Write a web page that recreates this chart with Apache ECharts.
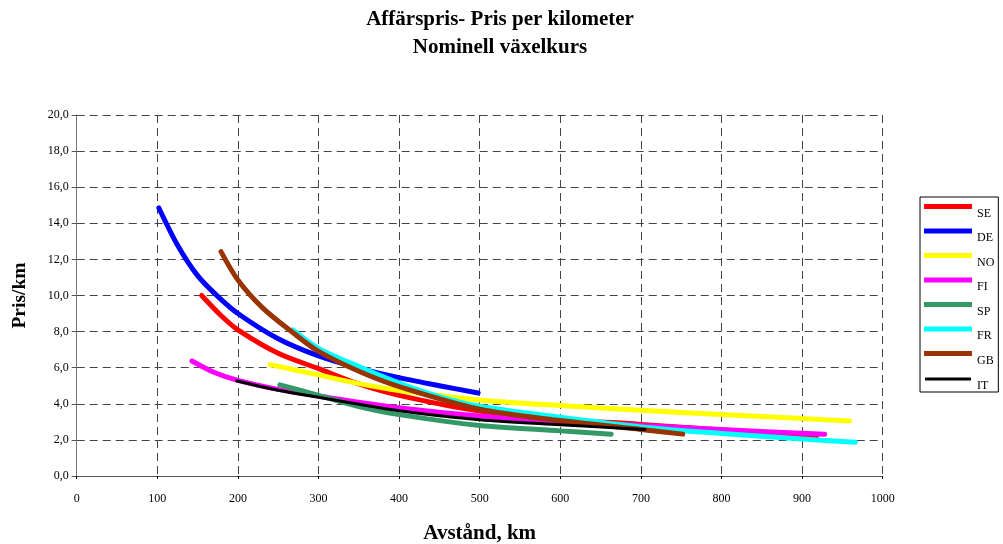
<!DOCTYPE html>
<html>
<head>
<meta charset="utf-8">
<script src="https://cdn.jsdelivr.net/npm/echarts@6/dist/echarts.min.js"></script>
<style>
  html, body { margin: 0; padding: 0; background: #fff; }
  #chart { width: 1003px; height: 544px; }
</style>
</head>
<body>
<div id="chart"></div>
<script>
// Pris per kilometer (y) mot avstånd i km (x), per land
const countries = ['SE', 'DE', 'NO', 'FI', 'SP', 'FR', 'GB', 'IT'];
const colors = ['#FF0000', '#0000FF', '#FFFF00', '#FF00FF', '#339966', '#00FFFF', '#993300', '#000000'];

const SE = [[155, 10.0], [180, 8.85], [200, 8.1], [250, 6.8], [300, 5.95], [350, 5.1], [400, 4.47], [500, 3.6], [600, 3.15], [700, 2.86], [800, 2.55], [918, 2.22]];
const DE = [[102, 14.85], [125, 12.8], [150, 11.1], [175, 9.95], [200, 9.0], [250, 7.6], [300, 6.65], [350, 5.98], [400, 5.45], [450, 5.0], [498, 4.6]];
const NO = [[240, 6.17], [300, 5.6], [350, 5.12], [400, 4.74], [500, 4.21], [600, 3.9], [700, 3.64], [800, 3.41], [900, 3.18], [959, 3.05]];
const FI = [[143, 6.37], [170, 5.75], [200, 5.3], [250, 4.8], [300, 4.43], [400, 3.78], [500, 3.32], [600, 3.02], [700, 2.8], [800, 2.57], [928, 2.31]];
const SP = [[252, 5.05], [300, 4.47], [350, 3.85], [400, 3.4], [500, 2.8], [600, 2.5], [663, 2.31]];
const FR = [[268, 8.1], [300, 7.07], [350, 6.06], [400, 5.15], [450, 4.4], [500, 3.86], [600, 3.25], [700, 2.72], [800, 2.36], [900, 2.05], [966, 1.87]];
const GB = [[179, 12.43], [200, 10.86], [231, 9.3], [268, 7.95], [300, 6.9], [350, 5.8], [400, 4.95], [500, 3.7], [600, 3.07], [700, 2.58], [752, 2.32]];
const IT = [[198.5, 5.26], [250, 4.75], [300, 4.36], [400, 3.62], [500, 3.12], [600, 2.84], [705, 2.57]];

const seriesData = [SE, DE, NO, FI, SP, FR, GB, IT];
const lineWidths = [5, 5, 5, 5, 5, 5, 5, 3];

const serif = '"Liberation Serif", "DejaVu Serif", serif';
const dashed = { color: '#444', type: [8, 5], width: 1 };

const chart = echarts.init(document.getElementById('chart'), null, { renderer: 'canvas' });

// legend entries: plain bars; the thinner IT bar is trimmed with a white border
const legendData = countries.map((name, i) => ({
  name,
  icon: 'rect',
  itemStyle: lineWidths[i] < 5
    ? { color: colors[i], borderColor: '#fff', borderWidth: 2 }
    : { color: colors[i], borderWidth: 0 }
}));

chart.setOption({
  animation: false,
  backgroundColor: '#fff',
  title: {
    text: 'Affärspris- Pris per kilometer\nNominell växelkurs',
    left: 495,
    top: 1,
    textAlign: 'center',
    textStyle: { fontFamily: serif, fontWeight: 'bold', fontSize: 21, lineHeight: 28, color: '#000' }
  },
  legend: {
    orient: 'vertical',
    left: 920,
    top: 197,
    padding: [7, 4, 0, 3],
    itemGap: 9,
    itemWidth: 48,
    itemHeight: 5,
    borderColor: '#000',
    borderWidth: 1,
    borderRadius: 0,
    data: legendData,
    formatter: '{n|{name}}',
    textStyle: {
      color: '#000',
      rich: { n: { fontFamily: serif, fontSize: 12, color: '#000', padding: [14, 0, 0, 0] } }
    }
  },
  grid: { left: 76.7, right: 120.3, top: 115, bottom: 68, outerBoundsMode: 'none' },
  xAxis: {
    type: 'value',
    min: 0, max: 1000, interval: 100,
    name: 'Avstånd, km',
    nameLocation: 'middle',
    nameGap: 47,
    nameTextStyle: { fontFamily: serif, fontWeight: 'bold', fontSize: 21, color: '#000' },
    axisLine: { show: true, lineStyle: { color: '#555', width: 1 } },
    axisTick: { show: true, length: 3, lineStyle: { color: '#000' } },
    axisLabel: { fontFamily: serif, fontSize: 12, color: '#000', margin: 17, formatter: v => String(v) },
    splitLine: { show: true, lineStyle: dashed }
  },
  yAxis: {
    type: 'value',
    min: 0, max: 20, interval: 2,
    name: 'Pris/km',
    nameLocation: 'middle',
    nameGap: 47,
    nameRotate: 90,
    nameTextStyle: { fontFamily: serif, fontWeight: 'bold', fontSize: 19.5, color: '#000' },
    axisLine: { show: true, lineStyle: { color: '#777', width: 1 } },
    axisTick: { show: true, length: 5, lineStyle: { color: '#555' } },
    axisLabel: {
      fontFamily: serif, fontSize: 12, color: '#000', margin: 8,
      formatter: v => v.toFixed(1).replace('.', ',')
    },
    splitLine: { show: true, lineStyle: dashed }
  },
  series: countries.map((name, i) => ({
    name,
    type: 'line',
    data: seriesData[i],
    smooth: 0.3,
    symbol: 'none',
    color: colors[i],
    lineStyle: { color: colors[i], width: lineWidths[i], cap: 'round', join: 'round' }
  }))
});
</script>
</body>
</html>
